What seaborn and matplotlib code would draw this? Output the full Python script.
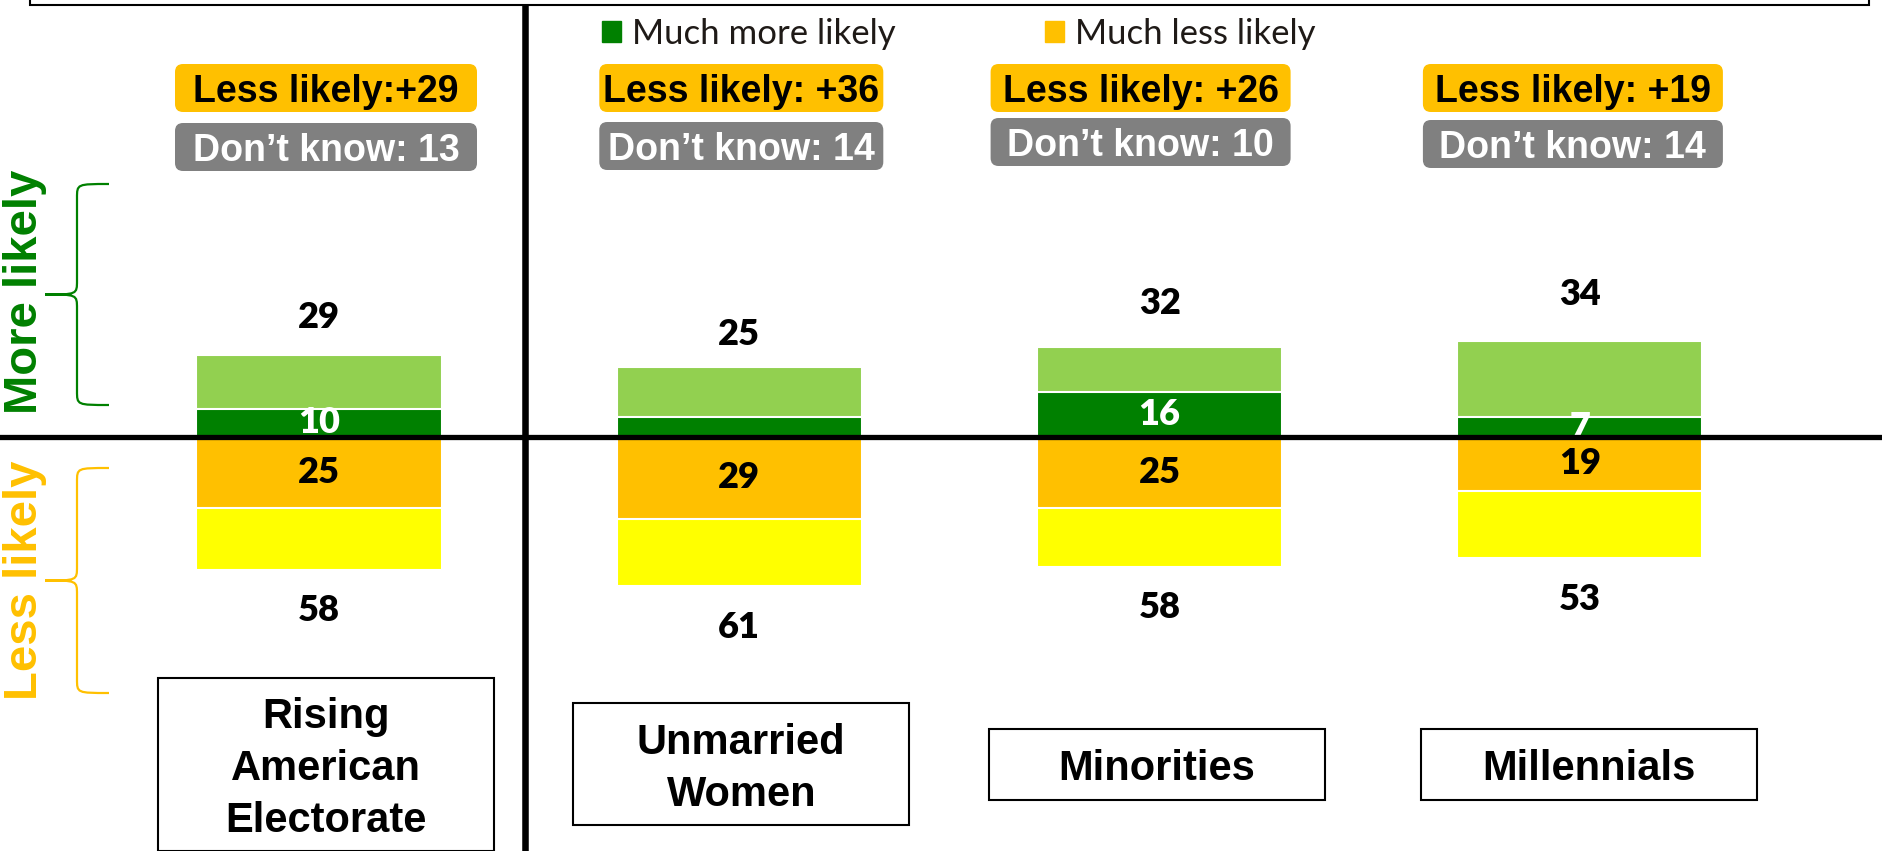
import matplotlib
matplotlib.use('Agg')
import numpy as np
import pandas as pd
import matplotlib.pyplot as plt
import seaborn as sns
from matplotlib.patches import FancyBboxPatch, Rectangle, Patch, PathPatch
from matplotlib.path import Path

# data
groups = ['Rising\nAmerican\nElectorate', 'Unmarried\nWomen', 'Minorities', 'Millennials']
more_total = [29, 25, 32, 34]
much_more = [10, 7, 16, 7]
much_more_labels = ['10', '', '16', '7']
much_less = [25, 29, 25, 19]
somewhat_less = [22, 24, 21, 24]   # height of the yellow segments as drawn
less_total = [58, 61, 58, 53]
less_badges = ['Less likely:+29', 'Less likely: +36', 'Less likely: +26', 'Less likely: +19']
dont_know = [13, 14, 10, 14]

C_DARK = '#008000'
C_LIGHT = '#92D050'
C_ORANGE = '#FFC000'
C_YELLOW = '#FFFF00'
C_GRAY = '#808080'

# layout (pixels)
W, H = 1883, 851
X0, DX = 319, 420.3      # first bar centre, spacing
BASE, PPU = 437, 2.82    # zero line, pixels per point
badge_dx = [7, 2, -19, -7]
badge_w = [302, 284, 300, 300]
dk_y = [147, 146, 142, 144]
box_dx = [7, 2, -3, 9]
top_off = [38, 32, 43, 47]

fig = plt.figure(figsize=(W / 100, H / 100), dpi=100)
ax = fig.add_axes([0, 0, 1, 1])

df = pd.DataFrame({
    'group': groups,
    'more': more_total,
    'much_more': much_more,
    'less': [-(a + b) for a, b in zip(much_less, somewhat_less)],
    'much_less': [-v for v in much_less],
})

bar_kw = dict(width=0.583, saturation=1, edgecolor='white', linewidth=1.5,
              errorbar=None, ax=ax)
sns.barplot(data=df, x='group', y='more', color=C_LIGHT, **bar_kw)
sns.barplot(data=df, x='group', y='much_more', color=C_DARK, **bar_kw)
sns.barplot(data=df, x='group', y='less', color=C_YELLOW, **bar_kw)
sns.barplot(data=df, x='group', y='much_less', color=C_ORANGE, **bar_kw)

ax.set_xlim(-X0 / DX, (W - X0) / DX)
ax.set_ylim((BASE - H) / PPU, BASE / PPU)
ax.axis('off')
ax.axhline(0, color='black', lw=3.8, zorder=5)

num_kw = dict(ha='center', va='center', fontsize=26, fontweight='heavy', family='Lato')
for i in range(len(groups)):
    ax.annotate(str(more_total[i]), (i, more_total[i]), xytext=(0, top_off[i]),
                textcoords='offset pixels', color='black', **num_kw)
    ax.annotate(str(less_total[i]), (i, df['less'][i]), xytext=(0, -41),
                textcoords='offset pixels', color='black', **num_kw)
    if much_more_labels[i]:
        ax.text(i, much_more[i] / 2, much_more_labels[i], color='white', **num_kw)
    ax.text(i, -much_less[i] / 2, str(much_less[i]), color='black', **num_kw)

# overlay in pixel coordinates for the decorations
ov = fig.add_axes([0, 0, 1, 1], label='overlay')
ov.set_xlim(0, W)
ov.set_ylim(H, 0)
ov.axis('off')

ov.add_patch(Rectangle((30, -20), 1839, 25, fill=False, lw=1.5, ec='black'))
ov.plot([525, 525], [5, H], color='black', lw=4.7, solid_capstyle='butt')


def brace(x_tip, x_stem, x_end, y_top, y_bot, color, r=14):
    y_mid = (y_top + y_bot) / 2
    verts = [(x_end, y_top), (x_stem, y_top), (x_stem, y_top), (x_stem, y_top + r),
             (x_stem, y_mid - r),
             (x_stem, y_mid), (x_stem, y_mid), (x_tip, y_mid),
             (x_stem, y_mid), (x_stem, y_mid), (x_stem, y_mid + r),
             (x_stem, y_bot - r),
             (x_stem, y_bot), (x_stem, y_bot), (x_end, y_bot)]
    codes = [Path.MOVETO, Path.CURVE4, Path.CURVE4, Path.CURVE4,
             Path.LINETO,
             Path.CURVE4, Path.CURVE4, Path.CURVE4,
             Path.CURVE4, Path.CURVE4, Path.CURVE4,
             Path.LINETO,
             Path.CURVE4, Path.CURVE4, Path.CURVE4]
    ov.add_patch(PathPatch(Path(verts, codes), fill=False, ec=color, lw=1.6))


brace(45, 77, 109, 184, 405, C_DARK)
brace(45, 77, 109, 468, 693, C_ORANGE)
side_kw = dict(rotation=90, ha='center', va='center', fontsize=34,
               fontweight='bold', family='Liberation Sans')
ov.text(25, 292, 'More likely', color=C_DARK, **side_kw)
ov.text(25, 580, 'Less likely', color=C_ORANGE, **side_kw)

badge_kw = dict(ha='center', va='baseline', fontsize=27, fontweight='bold',
                family='Liberation Sans')
for i, g in enumerate(groups):
    cx = X0 + DX * i + badge_dx[i]
    w = badge_w[i]
    ov.add_patch(FancyBboxPatch((cx - w / 2, 64), w, 48,
                                boxstyle='round,pad=0,rounding_size=8',
                                fc=C_ORANGE, ec='none'))
    ov.text(cx, 88 + 13.5, less_badges[i], color='black', **badge_kw)
    ov.add_patch(FancyBboxPatch((cx - w / 2, dk_y[i] - 24), w, 48,
                                boxstyle='round,pad=0,rounding_size=8',
                                fc=C_GRAY, ec='none'))
    ov.text(cx, dk_y[i] + 14, f'Don\u2019t know: {dont_know[i]}', color='white', **badge_kw)

    # category label boxes
    n = g.count('\n') + 1
    bh = 20 + 51 * n
    bx = X0 + DX * i + box_dx[i]
    ov.add_patch(Rectangle((bx - 168, 764 - bh / 2), 336, bh, fill=False,
                           lw=1.5, ec='black'))
    ov.text(bx, 769, g, ha='center', va='center', fontsize=30, fontweight='bold',
            family='Liberation Sans', linespacing=1.39)

handles = [Patch(color=C_DARK), Patch(color=C_ORANGE)]
fig.legend(handles, ['Much more likely', 'Much less likely'], loc='center left',
           bbox_to_anchor=(602 / W, 1 - 34 / H), ncol=2, frameon=False,
           prop={'family': 'Lato', 'size': 25}, labelcolor='#1f1a17',
           handlelength=0.55, handleheight=0.55, handletextpad=0.32,
           columnspacing=4.3, borderpad=0, borderaxespad=0)

fig.savefig('out.png', dpi=100)
